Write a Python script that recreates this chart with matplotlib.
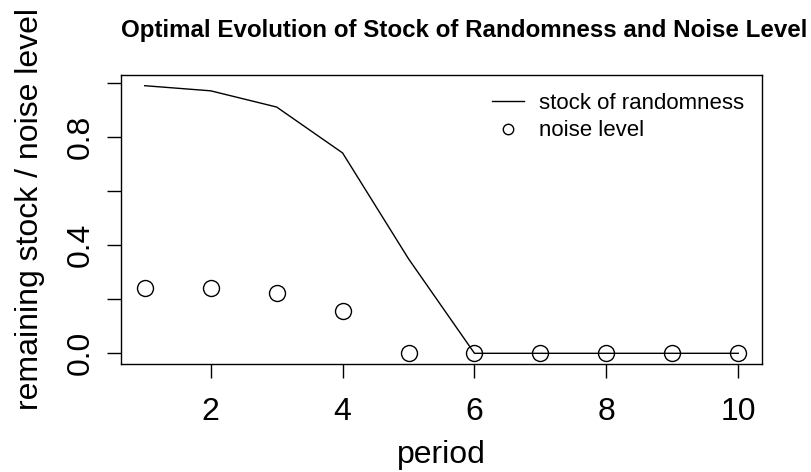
import matplotlib
matplotlib.use("Agg")
import matplotlib.pyplot as plt
from matplotlib.lines import Line2D

plt.rcParams['font.family'] = ['Liberation Sans', 'DejaVu Sans']

period = [1, 2, 3, 4, 5, 6, 7, 8, 9, 10]
stock = [0.991, 0.972, 0.912, 0.742, 0.35, 0.0, 0.0, 0.0, 0.0, 0.0]
noise = [0.243, 0.242, 0.223, 0.157, 0.0, 0.0, 0.0, 0.0, 0.0, 0.0]
xticks = [2, 4, 6, 8, 10]
yticks = [0.0, 0.2, 0.4, 0.6, 0.8, 1.0]
ytick_labels = ["0.0", "", "0.4", "", "0.8", ""]

W, H = 812, 472
fig = plt.figure(figsize=(W / 100, H / 100), dpi=100)
ax = fig.add_axes([121 / W, 1 - 364 / H, (762 - 121) / W, (364 - 75) / H])

ax.plot(period, stock, color='black', lw=1.0)
ax.plot(period, noise, linestyle='none', marker='o', markersize=11.5,
        markerfacecolor='none', markeredgecolor='black', markeredgewidth=1.0)

ax.set_xlim(0.64, 10.36)
ax.set_ylim(-0.0396, 1.0306)
ax.set_xticks(xticks)
ax.set_xticklabels([str(v) for v in xticks])
ax.set_yticks(yticks)
ax.set_yticklabels(ytick_labels, rotation=90, va='center')
ax.tick_params(axis='both', labelsize=23, length=10, width=1.0, direction='out')
ax.tick_params(axis='x', pad=14)
ax.tick_params(axis='y', pad=8)
for sp in ax.spines.values():
    sp.set_linewidth(1.0)

ax.set_xlabel('period', fontsize=23, labelpad=9)
ax.set_ylabel('remaining stock / noise level', fontsize=23)
ax.yaxis.set_label_coords(-0.118, 0.535)

handles = [Line2D([], [], color='black', lw=1.0),
           Line2D([], [], linestyle='none', marker='o', markersize=7.5,
                  markerfacecolor='none', markeredgecolor='black', markeredgewidth=1.0)]
ax.legend(handles, ['stock of randomness', 'noise level'], loc='upper right',
          frameon=False, fontsize=16, handlelength=1.4, handletextpad=0.7,
          labelspacing=0.3, borderaxespad=0.4, bbox_to_anchor=(1.0, 1.0))

fig.text(464 / W, 1 - 30 / H, 'Optimal Evolution of Stock of Randomness and Noise Level',
         ha='center', va='center', fontsize=17.4, fontweight='bold')

fig.savefig('out.png', dpi=100)
